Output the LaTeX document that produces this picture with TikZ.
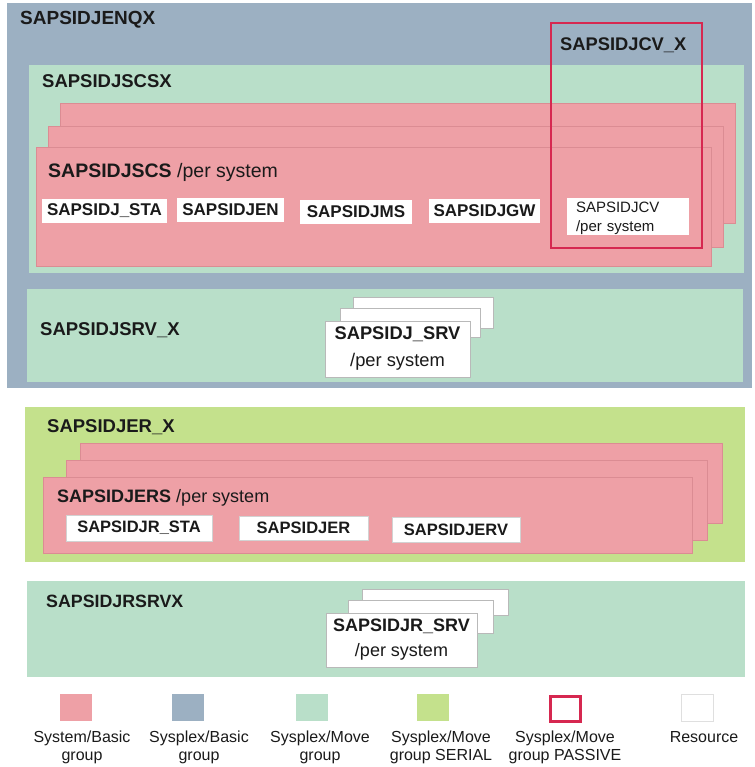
\documentclass[tikz,border=0pt]{standalone}
\usepackage{fontspec}
\setmainfont{Liberation Sans}
\usepackage{xcolor}
\definecolor{plexblue}{HTML}{9CB0C2}
\definecolor{movegreen}{HTML}{B9DFC9}
\definecolor{serialgreen}{HTML}{C4E18C}
\definecolor{sysred}{HTML}{EEA0A6}
\definecolor{sysedge}{HTML}{DB8C93}
\definecolor{passivered}{HTML}{D62850}
\definecolor{inkdark}{HTML}{1A1A1A}
\usetikzlibrary{positioning}
\tikzset{
  grpbase/.style={
    anchor=north west,
    inner sep=0pt, outer sep=0pt,
  },
  plexbasic/.style={grpbase, fill=plexblue},
  plexmove/.style={grpbase, fill=movegreen},
  plexserial/.style={grpbase, fill=serialgreen},
  sysbasic/.style={grpbase, fill=sysred, draw=sysedge, line width=0.6pt},
  plexpassive/.style={grpbase, draw=passivered, line width=2.8pt},
  rsrc/.style={
    fill=white, inner sep=0pt,
    text=inkdark, font=\fontsize{17}{20}\selectfont\bfseries,
  },
  rsrcstack/.style={grpbase, fill=white, draw=gray!55, line width=0.6pt},
  grplabel/.style={
    anchor=base west, inner sep=0pt,
    text=inkdark, font=\fontsize{18.5}{22}\selectfont\bfseries,
  },
  keybox/.style={minimum width=32pt, minimum height=27pt, inner sep=0pt, anchor=north},
  keytext/.style={
    anchor=north, align=center, inner sep=0pt,
    text=inkdark, font=\fontsize{16}{18}\selectfont,
  },
}
\begin{document}
\begin{tikzpicture}[x=1pt, y=-1pt]
  \useasboundingbox (0,0) rectangle (754,767);

  % Sysplex/Basic group
  \node[plexbasic, minimum width=745pt, minimum height=385pt] (enqx) at (7,3) {};
  \node[grplabel, font=\fontsize{19}{22}\selectfont\bfseries] (enqxlbl) at (20,25) {SAPSIDJENQX};

  % SCS move group and its stacked system groups
  \node[plexmove, minimum width=715pt, minimum height=208pt] (jscsx) at (29,65) {};
  \node[grplabel] (jscsxlbl) at (42,88) {SAPSIDJSCSX};
  \node[sysbasic, minimum width=675pt, minimum height=120pt] (jscsback) at (60,103) {};
  \node[sysbasic, minimum width=675pt, minimum height=121pt] (jscsmid) at (48,126) {};
  \node[sysbasic, minimum width=675pt, minimum height=119pt] (jscs) at (36,147) {};
  \node[grplabel, font=\fontsize{19.5}{22}\selectfont] (jscslbl) at (48,178)
    {\textbf{SAPSIDJSCS} /per system};

  % Resources of SAPSIDJSCS
  \node[rsrc, minimum width=125pt, minimum height=24pt] (jsta) at (104.5,211) {SAPSIDJ\_STA};
  \node[rsrc, minimum width=107pt, minimum height=24pt] (jen) at (230.5,210) {SAPSIDJEN};
  \node[rsrc, minimum width=112pt, minimum height=24pt] (jms) at (356,212) {SAPSIDJMS};
  \node[rsrc, minimum width=111pt, minimum height=24pt] (jgw) at (484.5,211) {SAPSIDJGW};
  \node[rsrc, grpbase, font=\fontsize{15}{19}\selectfont, align=left,
        text width=104pt, inner xsep=9pt, inner ysep=0pt, minimum height=37pt] (jcv) at (567,198)
    {\strut SAPSIDJCV\\/per system};

  % Passive move group
  \node[plexpassive, minimum width=151pt, minimum height=225pt] (jcvx) at (551,23) {};
  \node[grplabel, font=\fontsize{18.3}{22}\selectfont\bfseries] (jcvxlbl) at (560,51) {SAPSIDJCV\_X};

  % SRV move group
  \node[plexmove, minimum width=716pt, minimum height=93pt] (jsrvx) at (27,289) {};
  \node[grplabel] (jsrvxlbl) at (40,335) {SAPSIDJSRV\_X};
  \node[rsrcstack, minimum width=140pt, minimum height=31pt] (jsrvback) at (353,297) {};
  \node[rsrcstack, minimum width=140pt, minimum height=29pt] (jsrvmid) at (340,308) {};
  \node[rsrcstack, minimum width=145pt, minimum height=56pt, align=center,
        text=inkdark, font=\fontsize{18.3}{27}\selectfont] (jsrv) at (325,321)
    {\textbf{SAPSIDJ\_SRV}\\/per system};

  % ER serial group
  \node[plexserial, minimum width=720pt, minimum height=155pt] (jerx) at (25,407) {};
  \node[grplabel] (jerxlbl) at (47,432) {SAPSIDJER\_X};
  \node[sysbasic, minimum width=642pt, minimum height=80pt] (jersback) at (80,443) {};
  \node[sysbasic, minimum width=641pt, minimum height=80pt] (jersmid) at (66,460) {};
  \node[sysbasic, minimum width=649pt, minimum height=76pt] (jers) at (43,477) {};
  \node[grplabel, font=\fontsize{18}{22}\selectfont] (jerslbl) at (57,502)
    {\textbf{SAPSIDJERS} /per system};
  \node[rsrc, draw=gray!35, font=\fontsize{16.5}{20}\selectfont\bfseries,
        minimum width=146pt, minimum height=26pt] (jrsta) at (139,528) {SAPSIDJR\_STA};
  \node[rsrc, draw=gray!35, font=\fontsize{16.5}{20}\selectfont\bfseries,
        minimum width=129pt, minimum height=24pt] (jer) at (303.5,528) {SAPSIDJER};
  \node[rsrc, draw=gray!35, font=\fontsize{16.5}{20}\selectfont\bfseries,
        minimum width=128pt, minimum height=25pt] (jerv) at (456,529.5) {SAPSIDJERV};

  % ER SRV move group
  \node[plexmove, minimum width=718pt, minimum height=96pt] (jrsrvx) at (27,581) {};
  \node[grplabel, font=\fontsize{17.8}{22}\selectfont\bfseries] (jrsrvxlbl) at (46,607) {SAPSIDJRSRVX};
  \node[rsrcstack, minimum width=146pt, minimum height=26pt] (jrsrvback) at (362,589) {};
  \node[rsrcstack, minimum width=145pt, minimum height=33pt] (jrsrvmid) at (348,600) {};
  \node[rsrcstack, minimum width=151pt, minimum height=54pt, align=center,
        text=inkdark, font=\fontsize{18}{25}\selectfont] (jrsrv) at (326,613)
    {\textbf{SAPSIDJR\_SRV}\\/per system};

  % Legend
  \node[keybox, fill=sysred] (keysys) at (76,694) {};
  \node[keybox, fill=plexblue] (keyplex) at (188,694) {};
  \node[keybox, fill=movegreen] (keymove) at (311.5,694) {};
  \node[keybox, fill=serialgreen] (keyserial) at (432.5,694) {};
  \node[keybox, draw=passivered, line width=2.8pt, minimum width=30pt, minimum height=25pt] (keypassive) at (565.5,695) {};
  \node[keybox, fill=white, draw=gray!25] (keyres) at (697.5,694) {};

  \node[keytext] (keysyslbl) at (82,731) {System/Basic\\group};
  \node[keytext] (keyplexlbl) at (199,731) {Sysplex/Basic\\group};
  \node[keytext] (keymovelbl) at (320,731) {Sysplex/Move\\group};
  \node[keytext] (keyseriallbl) at (441,731) {Sysplex/Move\\group SERIAL};
  \node[keytext] (keypassivelbl) at (565,731) {Sysplex/Move\\group PASSIVE};
  \node[keytext] (keyreslbl) at (704,731) {Resource};

\end{tikzpicture}
\end{document}
